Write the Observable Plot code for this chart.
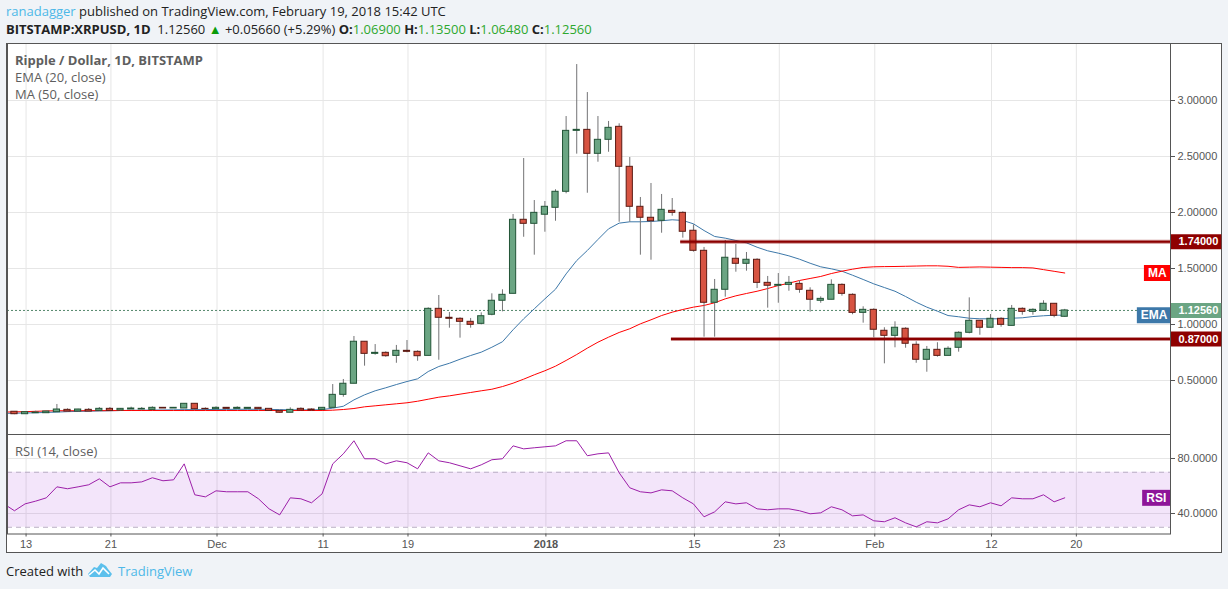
<!DOCTYPE html>
<html>
<head>
<meta charset="utf-8">
<script src="https://cdn.jsdelivr.net/npm/d3@7"></script>
<script src="https://cdn.jsdelivr.net/npm/@observablehq/plot@0.6"></script>
<style>
html,body{margin:0;padding:0;background:#f0f3f7;width:1228px;height:589px;overflow:hidden}
#page{position:relative;width:1228px;height:589px;font-family:"Open Sans",sans-serif}
#box{position:absolute;left:6px;top:43px;width:1214px;height:508px;background:#fff;border:1px solid #555}
.t{position:absolute;white-space:nowrap;line-height:17px}
.lg{color:#5e5e5e;font-size:13px}
svg.plot-pane{position:absolute;left:0}
</style>
</head>
<body>
<div id="page">
  <div id="box"></div>
  <div id="panes"></div>
  <div class="t" style="left:6px;top:3px;font-size:13px;color:#222"><span style="color:#4db8e8">ranadagger</span> published on TradingView.com, February 19, 2018 15:42 UTC</div>
  <div class="t" style="left:6px;top:21px;font-size:13px;color:#222"><b>BITSTAMP:XRPUSD, 1D</b>&nbsp; 1.12560 <span style="color:#0a9b0a">▲</span> +0.05660 (+5.29%) <b>O:</b><span style="color:#2ea82e">1.06900</span> <b>H:</b><span style="color:#2ea82e">1.13500</span> <b>L:</b><span style="color:#2ea82e">1.06480</span> <b>C:</b><span style="color:#2ea82e">1.12560</span></div>
  <div class="t lg" style="left:15px;top:52px;font-weight:bold">Ripple / Dollar, 1D, BITSTAMP</div>
  <div class="t lg" style="left:15px;top:69px">EMA (20, close)</div>
  <div class="t lg" style="left:15px;top:86px">MA (50, close)</div>
  <div class="t lg" style="left:15px;top:443px">RSI (14, close)</div>
  <div class="t" style="left:6px;top:563px;font-size:13px;color:#222">Created with</div>
  <svg style="position:absolute;left:87px;top:562px" width="26" height="17"><path d="M1 12 L7 5 L10 6 L14 1 L19 4 L21 7 L25 12 L23 15 L3 15 Z" fill="#5cc0ec"/><path d="M2 13 L8 8 L12 12 L16 6 L22 12" fill="none" stroke="#fff" stroke-width="1.6"/></svg>
  <div class="t" style="left:118px;top:563px;font-size:13px;color:#4db8e8">TradingView</div>
</div>
<script>
// Daily XRPUSD candles, 2017-11-12 .. 2018-02-19
const firstBar = "2017-11-12";
const open = [.221,.199,.208,.208,.217,.238,.223,.238,.229,.247,.232,.241,.241,.238,.256,.25,.25,.292,.247,.244,.256,.247,.247,.256,.247,.229,.212,.247,.241,.238,
 .256,.372,.471,.846,.738,.747,.72,.765,.756,.72,1.14,1.06,1.051,1.024,1.006,1.087,1.212,1.274,1.935,1.899,1.98,2.042,2.185,2.729,2.738,2.524,2.649,2.765,2.408,2.051,
 1.953,1.926,2.015,1.997,1.837,1.658,1.194,1.31,1.587,1.542,1.578,1.372,1.346,1.354,1.363,1.301,1.212,1.221,1.354,1.265,1.104,1.131,.944,.899,.962,.819,.685,.774,.72,.792,
 .926,1.033,.971,1.051,.988,1.14,1.113,1.122,1.185,1.069];
const high = [.221,.217,.226,.225,.286,.247,.243,.25,.259,.259,.25,.262,.259,.265,.259,.259,.292,.292,.256,.265,.259,.265,.259,.259,.25,.232,.256,.256,.247,.259,
 .464,.509,.893,.846,.821,.756,.813,.857,.765,1.149,1.259,1.107,1.06,1.054,1.104,1.274,1.31,1.982,2.482,2.107,2.098,2.203,2.857,3.321,3.071,2.857,2.813,2.792,2.491,2.134,
 2.259,2.161,2.125,2.006,1.89,1.688,1.402,1.75,1.714,1.643,1.587,1.429,1.455,1.429,1.39,1.328,1.247,1.399,1.363,1.274,1.158,1.14,.971,1.024,.971,.846,.804,.837,.801,.935,
 1.238,1.033,1.089,1.06,1.17,1.149,1.14,1.212,1.185,1.135];
const low = [.195,.197,.205,.208,.217,.22,.223,.22,.229,.229,.232,.241,.238,.238,.25,.25,.25,.232,.232,.244,.247,.247,.247,.244,.229,.209,.212,.232,.229,.238,
 .256,.351,.471,.628,.726,.708,.654,.747,.672,.72,.681,.967,.878,.967,.997,1.078,1.113,1.274,1.779,1.619,1.824,1.922,2.167,2.521,2.172,2.449,2.538,1.913,1.913,1.619,
 1.574,1.815,1.967,1.771,1.646,.887,.887,1.244,1.467,1.476,1.321,1.146,1.19,1.297,1.279,1.11,1.19,1.221,1.253,1.087,1.012,.881,.649,.792,.788,.654,.574,.708,.72,.753,
 .917,.904,.971,.976,.988,1.083,1.083,1.122,1.06,1.0648];
const close = [.199,.217,.214,.223,.241,.223,.241,.223,.247,.229,.247,.25,.247,.256,.25,.256,.292,.244,.244,.256,.247,.256,.256,.244,.229,.212,.238,.232,.232,.256,
 .372,.471,.846,.738,.747,.717,.765,.756,.717,1.14,1.06,1.051,1.024,.997,1.074,1.212,1.265,1.935,1.899,1.997,2.051,2.185,2.729,2.738,2.524,2.649,2.756,2.408,2.051,1.953,
 1.922,2.024,1.997,1.828,1.658,1.194,1.31,1.596,1.542,1.578,1.372,1.346,1.354,1.372,1.31,1.221,1.229,1.354,1.274,1.104,1.131,.953,.899,.971,.828,.685,.774,.72,.783,.926,
 1.033,.971,1.051,.997,1.14,1.113,1.131,1.185,1.078,1.1256];

// Indicators, 2017-11-11 .. 2018-02-19
const firstIndicator = "2017-11-11";
const ema20 = [.206,.208,.21,.212,.215,.218,.222,.224,.226,.228,.23,.232,.234,.235,.236,.237,.238,.24,.24,.24,.242,.242,.243,.243,.243,.242,.24,.238,.238,.238,.24,
 .253,.27,.327,.372,.408,.435,.464,.491,.515,.58,.625,.654,.69,.723,.753,.797,.846,.953,1.051,1.14,1.229,1.315,1.452,1.571,1.661,1.759,1.854,1.905,1.917,1.917,
 1.92,1.926,1.935,1.929,1.899,1.839,1.786,1.771,1.75,1.729,1.69,1.658,1.637,1.613,1.583,1.547,1.515,1.497,1.476,1.44,1.402,1.363,1.33,1.297,1.25,1.199,1.155,1.119,1.08,1.069,
 1.056,1.051,1.051,1.051,1.056,1.06,1.071,1.078,1.083,1.083];
const ma50 = [.218,.22,.222,.225,.228,.23,.23,.23,.231,.231,.231,.232,.232,.232,.232,.232,.232,.232,.232,.232,.232,.232,.232,.232,.232,.232,.232,.232,.232,.232,.232,
 .235,.241,.25,.265,.274,.283,.292,.301,.315,.333,.351,.363,.378,.393,.408,.422,.446,.476,.512,.551,.587,.628,.679,.732,.789,.842,.887,.929,.962,1.006,
 1.042,1.08,1.11,1.134,1.155,1.17,1.194,1.229,1.256,1.277,1.297,1.321,1.348,1.369,1.393,1.411,1.429,1.455,1.476,1.494,1.509,1.515,1.517,1.518,1.52,1.522,1.524,1.524,1.52,1.51,
 1.512,1.514,1.512,1.51,1.508,1.508,1.505,1.49,1.475,1.46];
const rsi14 = [47,42,47,49,51.4,59.4,58,59.4,60.9,65.2,59.4,62.3,62.3,63,66,63.8,64.5,76.1,53.6,52.1,56.5,55.8,55.8,55.8,50.7,43.4,39,51.4,50.7,47.8,54.3,
 76.1,83.4,92.9,79.8,79.8,76.1,78.3,76.9,72.5,84.1,78.3,76.9,74.7,72.5,75.4,79.1,79.8,89.2,87,87.8,88.5,89.2,92.9,92.9,82,83.4,84.1,69.6,58.7,55.8,
 55,57.2,56.5,51.4,47,37.6,41.2,48.5,47,47.8,43.4,42.7,43.4,43.4,42,39.8,40.5,44.9,42.7,38.3,39,34.7,34,36.9,33.2,30.3,34,33.2,36.1,42.7,
 46.3,44.9,47.8,45.6,51.4,50.7,50.7,53.6,48.5,51.4];

// Axis labels
const timeTicks = ["2017-11-13","2017-11-21","2017-12-01","2017-12-11","2017-12-19","2018-01-01","2018-01-15","2018-01-23","2018-02-01","2018-02-12","2018-02-20"];
const timeLabels = ["13","21","Dec","11","19","2018","15","23","Feb","12","20"];
const priceTicks = [.5,1,1.5,2,2.5,3];
const rsiTicks = [40,80];
const support = .87, resistance = 1.74, lastPrice = 1.1256;

const day = (d,n) => d3.utcHour.offset(new Date(d), Math.round(n*24));
const T0 = "2017-11-13";
const xDomain = [day(T0,-1.734), day(T0,107.87)];
const xOuter = day(T0,112.7);
const FONT = '"Liberation Sans",Arial,sans-serif';
const GREEN="#6ba583",GREEN_D="#225437",RED="#d75442",RED_D="#5b1a13",WICK="#737375",GRID="#e6e6e6",LINE="#555";
const BAR_HALF = 7;

const bars = open.map((o,i)=>{
  const date = d3.utcDay.offset(new Date(firstBar),i);
  return {date,o,h:high[i],l:low[i],c:close[i],x1:d3.utcHour.offset(date,-BAR_HALF),x2:d3.utcHour.offset(date,BAR_HALF)};
});
const ind = ema20.map((e,i)=>({date:d3.utcDay.offset(new Date(firstIndicator),i),e,m:ma50[i],r:rsi14[i]}));
const tickDates = timeTicks.map(d=>new Date(d));
const tickText = new Map(tickDates.map((d,i)=>[+d,timeLabels[i]]));
const axisTag = (v,fill,label) => [
  Plot.ruleY([v],{x1:xDomain[1],x2:xOuter,stroke:fill,strokeWidth:15}),
  Plot.text([label],{x:day(T0,107.87),y:[v],text:d=>d,textAnchor:"start",dx:8,fill:"#fff",fontWeight:"bold",fontSize:11,fontFamily:FONT})
];
const lineTag = (v,fill,label,from,data) => [
  Plot.ruleY([v],{x1:day(T0,from),x2:xDomain[1],stroke:fill,strokeWidth:16}),
  Plot.text([label],{x:day(T0,(from+107.87)/2),y:[v],text:d=>d,fill:"#fff",fontWeight:"bold",fontSize:12,fontFamily:FONT})
];
const hline = (v,from) => [
  Plot.ruleY([v],{x1:day(T0,from),x2:xDomain[1],stroke:"#8b0000",strokeOpacity:.45,strokeWidth:4}),
  Plot.ruleY([v],{x1:day(T0,from),x2:xDomain[1],stroke:"#8b0000",strokeWidth:2})
];

const price = Plot.plot({
  width:1228,height:391,marginLeft:7,marginRight:58,marginTop:0,marginBottom:0,
  style:{background:"transparent",fontFamily:FONT},
  x:{type:"utc",domain:xDomain,axis:null},
  y:{domain:[.0179,3.509],axis:null},
  marks:[
    Plot.ruleX(tickDates,{stroke:GRID}),
    Plot.ruleY(priceTicks,{stroke:GRID}),
    Plot.ruleY([lastPrice],{stroke:"#53866b",strokeDasharray:"2,2"}),
    Plot.line(ind,{x:"date",y:"e",stroke:"#3d78a9",strokeWidth:1,dx:-1,clip:true}),
    Plot.line(ind,{x:"date",y:"m",stroke:"#ff0000",strokeWidth:1,dx:-1,clip:true}),
    Plot.ruleX(bars,{x:"date",y1:"l",y2:"h",stroke:WICK,dx:-1}),
    Plot.rect(bars,{x1:"x1",x2:"x2",y1:"o",y2:"c",fill:d=>d.c>=d.o?GREEN:RED,stroke:d=>d.c>=d.o?GREEN_D:RED_D,strokeWidth:1,dx:-1}),
    hline(resistance,61.7),
    hline(support,60.85),
    Plot.axisY({anchor:"right",ticks:priceTicks,tickFormat:d3.format(".5f"),tickSize:4,tickPadding:3,stroke:LINE,fill:"#555",fontSize:11,fontFamily:FONT,label:null}),
    lineTag(ma50[ma50.length-1],"#ff0000","MA",105.4),
    lineTag(ema20[ema20.length-1],"#3d78a9","EMA",104.76),
    axisTag(resistance,"#8e0000","1.74000"),
    axisTag(lastPrice,GREEN,"1.12560"),
    axisTag(support,"#8e0000","0.87000"),
    Plot.frame({stroke:LINE})
  ]
});

const rsi = Plot.plot({
  width:1228,height:119,marginLeft:7,marginRight:58,marginTop:0,marginBottom:19.5,
  style:{background:"transparent",fontFamily:FONT},
  x:{type:"utc",domain:xDomain,axis:null},
  y:{domain:[25.1,97.45],axis:null},
  marks:[
    Plot.ruleX(tickDates,{stroke:GRID}),
    Plot.ruleY(rsiTicks,{stroke:GRID}),
    Plot.rect([{a:30,b:70}],{x1:()=>xDomain[0],x2:()=>xDomain[1],y1:"a",y2:"b",fill:"#9c27d8",fillOpacity:.12}),
    Plot.ruleY([30,70],{stroke:"#b9adc4",strokeDasharray:"5,4"}),
    Plot.line(ind,{x:"date",y:"r",stroke:"#9c1fa8",strokeWidth:1,dx:-1,clip:true}),
    Plot.axisY({anchor:"right",ticks:rsiTicks,tickFormat:d3.format(".4f"),tickSize:4,tickPadding:3,stroke:LINE,fill:"#555",fontSize:11,fontFamily:FONT,label:null}),
    lineTag(rsi14[rsi14.length-1],"#8e1599","RSI",105.24),
    Plot.axisX({anchor:"bottom",ticks:tickDates.filter(d=>tickText.get(+d)!=="2018"),tickFormat:d=>tickText.get(+d),tickSize:3,tickPadding:3,stroke:LINE,fill:"#555",fontSize:11,fontFamily:FONT,label:null}),
    Plot.axisX({anchor:"bottom",ticks:tickDates.filter(d=>tickText.get(+d)==="2018"),tickFormat:d=>tickText.get(+d),tickSize:3,tickPadding:3,stroke:LINE,fill:"#555",fontSize:11,fontWeight:"bold",fontFamily:FONT,label:null}),
    Plot.frame({stroke:LINE})
  ]
});

price.setAttribute("class",price.getAttribute("class")+" plot-pane");
rsi.setAttribute("class",rsi.getAttribute("class")+" plot-pane");
price.style.position="absolute";price.style.left="0";price.style.top="43px";
rsi.style.position="absolute";rsi.style.left="0";rsi.style.top="434px";
const panes=document.getElementById("panes");
panes.appendChild(price);panes.appendChild(rsi);
</script>
</body>
</html>
